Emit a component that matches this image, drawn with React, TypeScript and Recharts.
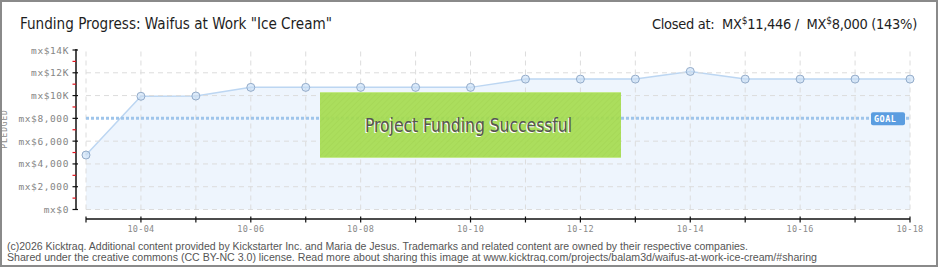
import React from 'react';
import { ComposedChart, Area, XAxis, YAxis, ReferenceLine } from 'recharts';

// Daily pledge totals (MXN) for October
const MONTH = '10';
const DAYS = [3, 4, 5, 6, 7, 8, 9, 10, 11, 12, 13, 14, 15, 16, 17, 18];
const PLEDGED = [4780, 9940, 9960, 10720, 10720, 10720, 10720, 10720, 11446, 11446, 11446, 12120, 11446, 11446, 11446, 11446];
const GOAL = 8000;
const RAISED = 11446;

const Y_TICKS = [0, 1000, 2000, 3000, 4000, 5000, 6000, 7000, 8000, 9000, 10000, 11000, 12000, 13000, 14000];
const GRID_Y = [0, 2000, 4000, 6000, 10000, 12000];
const LABELED_DAYS = [4, 6, 8, 10, 12, 14, 16, 18];

const TITLE = 'Funding Progress: Waifus at Work "Ice Cream"';
const BANNER = 'Project Funding Successful';
const FOOTER_1 = '(c)2026 Kicktraq. Additional content provided by Kickstarter Inc. and Maria de Jesus. Trademarks and related content are owned by their respective companies.';
const FOOTER_2 = 'Shared under the creative commons (CC BY-NC 3.0) license. Read more about sharing this image at www.kicktraq.com/projects/balam3d/waifus-at-work-ice-cream/#sharing';

const data = DAYS.map((day, i) => ({ day, value: PLEDGED[i] }));

// layout
const W = 940;
const H = 270;
const PLOT_LEFT = 86;
const PLOT_RIGHT = 910;
const PLOT_TOP = 50;
const PLOT_BOTTOM = 219;
const Y_MIN = -834;
const Y_MAX = 14000;
const AXIS_X = 76;
const PX_PER_UNIT = (PLOT_BOTTOM - PLOT_TOP) / (Y_MAX - Y_MIN);

const AXIS_FONT = "'DejaVu Sans Mono', monospace";
const TITLE_FONT = "'Liberation Sans Narrow', 'DejaVu Sans Condensed', 'Liberation Sans', sans-serif";

const fmtY = (v: number) =>
  v >= 10000 ? `mx$${v / 1000}K` : `mx$${v.toLocaleString('en-US')}`;
const fmtMoney = (v: number) => v.toLocaleString('en-US');

const YTick = (props: any) => {
  const { y, payload } = props;
  const v = payload.value as number;
  const major = v % 2000 === 0;
  return (
    <g>
      {v === 0 && (
        <line x1={AXIS_X} x2={AXIS_X} y1={y + 0.5} y2={y - Y_MAX * PX_PER_UNIT - 1} stroke="#111" strokeWidth={1.5} />
      )}
      {major ? (
        <line x1={AXIS_X - 3.5} x2={AXIS_X + 2} y1={y} y2={y} stroke="#111" strokeWidth={1.2} />
      ) : (
        <line x1={AXIS_X - 3.5} x2={AXIS_X} y1={y} y2={y} stroke="#e0141e" strokeWidth={1.2} />
      )}
      {major && (
        <text x={AXIS_X - 7} y={y} textAnchor="end" dominantBaseline="central" fontFamily={AXIS_FONT} fontSize={9.5} fill="#858585" letterSpacing={0.6}>
          {fmtY(v)}
        </text>
      )}
    </g>
  );
};

const XTick = (props: any) => {
  const { x, payload } = props;
  const d = payload.value as number;
  return (
    <g>
      <line x1={x} x2={x} y1={PLOT_BOTTOM - 2.5} y2={PLOT_BOTTOM + 3.5} stroke="#111" strokeWidth={1.2} />
      {LABELED_DAYS.includes(d) && (
        <text x={x} y={PLOT_BOTTOM + 10} textAnchor="middle" dominantBaseline="central" fontFamily={AXIS_FONT} fontSize={8.5} fill="#8a8a8a" letterSpacing={0.3}>
          {`${MONTH}-${String(d).padStart(2, '0')}`}
        </text>
      )}
    </g>
  );
};

const GoalLabel = (props: any) => {
  const vb = props.viewBox || {};
  const right = vb.x + vb.width;
  const y = vb.y;
  return (
    <g>
      <rect x={right - 39} y={y - 6} width={34} height={13} rx={2} fill="#5b9de0" />
      <text x={right - 36} y={y + 0.5} dominantBaseline="central" fontFamily={AXIS_FONT} fontSize={8.5} fontWeight="bold" fill="#ffffff" letterSpacing={0.5}>
        GOAL
      </text>
    </g>
  );
};

export default function App() {
  const pct = Math.round((RAISED / GOAL) * 100);
  return (
    <div style={{ position: 'absolute', left: 0, top: 0, width: W, height: H, background: '#fff' }}>
      <ComposedChart
        width={W}
        height={H}
        data={data}
        margin={{ top: PLOT_TOP, right: W - PLOT_RIGHT, bottom: 0, left: 0 }}
        style={{ position: 'absolute', left: 0, top: 0 }}
      >
        <XAxis
          dataKey="day"
          type="number"
          domain={[DAYS[0], DAYS[DAYS.length - 1]]}
          ticks={DAYS}
          interval={0}
          height={H - PLOT_BOTTOM}
          tick={XTick}
          tickLine={false}
          axisLine={{ stroke: '#111', strokeWidth: 1.5 }}
        />
        <YAxis
          type="number"
          domain={[Y_MIN, Y_MAX]}
          ticks={Y_TICKS}
          interval={0}
          width={PLOT_LEFT}
          tick={YTick}
          tickLine={false}
          axisLine={false}
        />
        {DAYS.map((d) => (
          <ReferenceLine
            key={`vx-${d}`}
            segment={[{ x: d, y: 0 }, { x: d, y: Y_MAX }]}
            stroke="#dcdcdc"
            strokeDasharray="5 4"
            ifOverflow="visible"
          />
        ))}
        {GRID_Y.map((v) => (
          <ReferenceLine key={`hy-${v}`} y={v} stroke="#dcdcdc" strokeDasharray="5 4" ifOverflow="visible" />
        ))}
        <Area
          dataKey="value"
          type="linear"
          stroke="#bcd6f2"
          strokeWidth={1.5}
          fill="#e2eefb"
          fillOpacity={0.6}
          dot={{ r: 4, fill: '#c7ddf7', stroke: '#93abc9', strokeWidth: 1 }}
          activeDot={false}
          isAnimationActive={false}
        />
        <ReferenceLine y={GOAL} stroke="#9fc5eb" strokeWidth={3} strokeDasharray="3 2" label={GoalLabel} ifOverflow="visible" />
      </ComposedChart>

      <svg width={W} height={H} style={{ position: 'absolute', left: 0, top: 0, pointerEvents: 'none' }}>
        <defs>
          <pattern id="hatch" width="4" height="4" patternUnits="userSpaceOnUse" patternTransform="rotate(45)">
            <rect width="4" height="4" fill="#a7dd51" />
            <line x1="0" y1="0" x2="0" y2="4" stroke="#9fd64a" strokeWidth="1.5" />
          </pattern>
        </defs>
        <rect x={1} y={1} width={936} height={265} fill="none" stroke="#8a8a8a" strokeWidth={2} />

        <text x={20} y={29} fontFamily={TITLE_FONT} fontSize={16} fill="#1e1e1e" textLength={312} lengthAdjust="spacingAndGlyphs">
          {TITLE}
        </text>
        <text x={917} y={29} textAnchor="end" fontFamily={TITLE_FONT} fontSize={14.5} fill="#1e1e1e" letterSpacing={-0.3} style={{ whiteSpace: 'pre' }}>
          {'Closed at:  MX'}
          <tspan fontSize={10} dy={-5}>$</tspan>
          <tspan dy={5}>{`${fmtMoney(RAISED)} /  MX`}</tspan>
          <tspan fontSize={10} dy={-5}>$</tspan>
          <tspan dy={5}>{`${fmtMoney(GOAL)} (${pct}%)`}</tspan>
        </text>

        <text x={4.5} y={129} transform="rotate(-90 4.5 129)" textAnchor="middle" dominantBaseline="central" fontFamily={AXIS_FONT} fontSize={8} fill="#8a8a8a" letterSpacing={0.8}>
          PLEDGED
        </text>

        <g opacity={0.93}>
          <rect x={320} y={92} width={301} height={66} fill="url(#hatch)" />
          <line x1={320} x2={621} y1={92.5} y2={92.5} stroke="#c0ea80" strokeWidth={1} />
          <line x1={320} x2={621} y1={157.5} y2={157.5} stroke="#c0ea80" strokeWidth={1} />
        </g>
        <text x={364} y={133} fontFamily={TITLE_FONT} fontSize={19} fill="#ffffff" textLength={207} lengthAdjust="spacingAndGlyphs">
          {BANNER}
        </text>
        <text x={365} y={132} fontFamily={TITLE_FONT} fontSize={19} fill="#555555" textLength={207} lengthAdjust="spacingAndGlyphs">
          {BANNER}
        </text>

        <text x={7} y={249.5} fontFamily="'Liberation Sans', sans-serif" fontSize={10} fill="#555" textLength={741} lengthAdjust="spacingAndGlyphs">
          {FOOTER_1}
        </text>
        <text x={7} y={261} fontFamily="'Liberation Sans', sans-serif" fontSize={10} fill="#555" textLength={810} lengthAdjust="spacingAndGlyphs">
          {FOOTER_2}
        </text>
      </svg>
    </div>
  );
}
